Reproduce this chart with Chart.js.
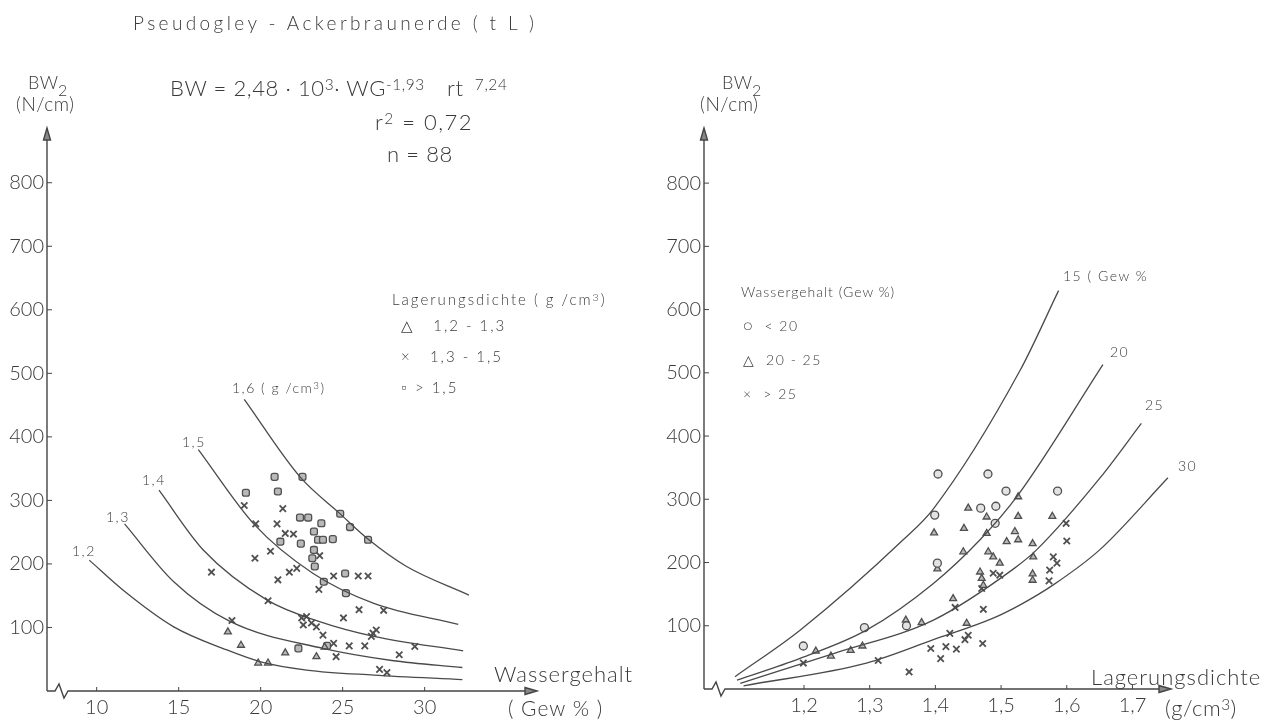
<!DOCTYPE html>
<html>
<head>
<meta charset="utf-8">
<script src="https://cdn.jsdelivr.net/npm/chart.js@4.4.1/dist/chart.umd.min.js"></script>
<style>
  body { margin: 0; background: #fff; }
  #wrap { position: relative; width: 1276px; height: 720px; overflow: hidden; font-family: Lato, "DejaVu Sans", sans-serif; font-weight: 300; color: #3a3a3a; }
  canvas { position: absolute; top: 0; }
  .t { position: absolute; white-space: nowrap; line-height: 1; transform: translateY(-50%); }
  .t sup { font-size: 70%; position: relative; top: -0.4em; vertical-align: baseline; }
  .big { font-size: 22px; letter-spacing: 0.6px; }
  .sm { font-size: 15px; letter-spacing: 2px; }
  .kl { font-size: 14px; letter-spacing: 1.5px; }
</style>
</head>
<body>
<div id="wrap">
  <canvas id="links" width="640" height="720" style="left:0;width:640px;height:720px"></canvas>
  <canvas id="rechts" width="636" height="720" style="left:640px;width:636px;height:720px"></canvas>

  <!-- linke Grafik -->
  <div class="t" style="left:133px;top:22px;font-size:19px;letter-spacing:3.4px">Pseudogley - Ackerbraunerde ( t L )</div>
  <div class="t" style="left:28px;top:82px;font-size:18px;letter-spacing:0.5px">BW</div>
  <div class="t" style="left:58px;top:90px;font-size:16px">2</div>
  <div class="t" style="left:16px;top:103px;font-size:19px;letter-spacing:0.5px">(N/cm)</div>
  <div class="t big" style="left:170px;top:88px">BW = 2,48 · 10<sup>3</sup>· WG<sup>-1,93</sup></div>
  <div class="t big" style="left:447px;top:88px">rt <sup>&nbsp;7,24</sup></div>
  <div class="t big" style="left:375px;top:122px;letter-spacing:1.5px">r<sup>2</sup> = 0,72</div>
  <div class="t big" style="left:387px;top:154px">n = 88</div>
  <div class="t sm" style="left:392px;top:299px">Lagerungsdichte ( g /cm<sup>3</sup>)</div>
  <div class="t sm" style="left:401px;top:325px">△&nbsp;&nbsp;&nbsp;1,2 - 1,3</div>
  <div class="t sm" style="left:401px;top:356px">×&nbsp;&nbsp;&nbsp;1,3 - 1,5</div>
  <div class="t sm" style="left:401px;top:387px">▫ &gt; 1,5</div>
  <div class="t kl" style="left:72px;top:551px">1,2</div>
  <div class="t kl" style="left:106px;top:517px">1,3</div>
  <div class="t kl" style="left:142px;top:480px">1,4</div>
  <div class="t kl" style="left:182px;top:442px">1,5</div>
  <div class="t kl" style="left:232px;top:388px">1,6 ( g /cm<sup>3</sup>)</div>
  <div class="t big" style="left:494px;top:674px;letter-spacing:1px">Wassergehalt</div>
  <div class="t" style="left:508px;top:707px;font-size:21px;letter-spacing:1px">( Gew % )</div>

  <!-- rechte Grafik -->
  <div class="t" style="left:722px;top:82px;font-size:18px;letter-spacing:0.5px">BW</div>
  <div class="t" style="left:752px;top:90px;font-size:16px">2</div>
  <div class="t" style="left:700px;top:103px;font-size:19px;letter-spacing:0.5px">(N/cm)</div>
  <div class="t kl" style="left:741px;top:292px;letter-spacing:1px">Wassergehalt (Gew %)</div>
  <div class="t kl" style="left:743px;top:326px">○&nbsp;&nbsp;&lt; 20</div>
  <div class="t kl" style="left:743px;top:360px">△&nbsp;&nbsp;20 - 25</div>
  <div class="t kl" style="left:743px;top:394px">×&nbsp;&nbsp;&gt; 25</div>
  <div class="t kl" style="left:1063px;top:276px">15 ( Gew %</div>
  <div class="t kl" style="left:1110px;top:352px">20</div>
  <div class="t kl" style="left:1145px;top:405px">25</div>
  <div class="t kl" style="left:1178px;top:466px">30</div>
  <div class="t big" style="left:1091px;top:677px;letter-spacing:1px">Lagerungsdichte</div>
  <div class="t" style="left:1165px;top:708px;font-size:22px;letter-spacing:0.5px">(g/cm<sup>3</sup>)</div>
</div>

<script>
// --- linke Grafik: BW gegen Wassergehalt (Gew %) ---
const wgTicks = [10, 15, 20, 25, 30];
const bwTicks = [100, 200, 300, 400, 500, 600, 700, 800];

// Kurven gleicher Lagerungsdichte (g/cm3)
const kurve12 = [[9.55, 206], [11.6, 159], [14.7, 101], [17.9, 65], [20, 46], [22.8, 33], [26.9, 25], [32.3, 18]];
const kurve13 = [[11.7, 263], [14.7, 172], [18.1, 110], [23.8, 67], [28, 48], [32.3, 37]];
const kurve14 = [[13.8, 316], [16.5, 222], [20.4, 143], [23.5, 110], [26.9, 86], [32.35, 63]];
const kurve15 = [[16.2, 380], [19.65, 261], [23.2, 185], [26.9, 138], [32.05, 105]];
const kurve16 = [[19, 459], [22.4, 337], [24.8, 280], [26.6, 238], [28.9, 196], [32.7, 151]];

// Messpunkte nach Lagerungsdichte
const dichte12bis13 = [[18, 93], [18.8, 72], [21.5, 60], [23.4, 54], [23.9, 69], [19.85, 44], [20.45, 44]];
const dichte13bis15 = [[19, 292], [19.7, 263], [21.35, 287], [21, 263], [21.5, 248], [22, 247], [20.6, 220], [19.65, 209],
  [17, 187], [21.75, 187], [22.2, 193], [21.05, 175], [23.6, 213], [24.45, 181], [25.95, 181], [26.55, 181], [23.55, 160],
  [20.45, 142], [18.25, 111], [25.05, 115], [26, 128], [27.5, 127], [22.5, 115], [22.8, 117], [22.6, 104], [23.1, 107],
  [23.4, 101], [23.8, 88], [26.85, 91], [27.05, 96], [26.75, 86], [29.4, 70], [24.45, 75], [25.4, 71], [26.35, 71],
  [28.45, 57], [24.6, 54], [27.25, 34], [27.7, 29]];
const dichteUeber15 = [[20.85, 337], [22.55, 337], [19.1, 312], [21.05, 314], [24.85, 279], [25.45, 258], [26.55, 238],
  [22.4, 273], [22.9, 273], [23.7, 264], [23.25, 251], [22.45, 232], [23.5, 238], [23.8, 238], [24.4, 239], [23.25, 222],
  [23.15, 209], [23.3, 196], [25.15, 185], [23.85, 172], [25.2, 154], [21.2, 235], [22.3, 67], [24.05, 71]];

// --- rechte Grafik: BW gegen Lagerungsdichte (g/cm3) ---
const rtTicks = [1.2, 1.3, 1.4, 1.5, 1.6, 1.7];

// Kurven gleichen Wassergehalts (Gew %)
const kurveWG15 = [[1.095, 19.5], [1.194, 93], [1.351, 236], [1.397, 285], [1.529, 504], [1.5875, 630]];
const kurveWG20 = [[1.098, 14], [1.194, 48.5], [1.295, 93], [1.397, 167], [1.468, 236], [1.526, 307], [1.655, 513]];
const kurveWG25 = [[1.103, 9], [1.245, 56], [1.397, 109], [1.519, 190], [1.554, 220], [1.65, 333], [1.7135, 420]];
const kurveWG30 = [[1.108, 5], [1.295, 41], [1.397, 78], [1.488, 112], [1.529, 133], [1.58, 165], [1.65, 220], [1.754, 334]];

// Messpunkte nach Wassergehalt
const wgUnter20 = [[1.404, 340], [1.48, 340], [1.5075, 313], [1.586, 313], [1.399, 275], [1.469, 286], [1.492, 289],
  [1.403, 199], [1.199, 68], [1.292, 97], [1.356, 100], [1.491, 262]];
const wg20bis25 = [[1.45, 286], [1.4435, 254], [1.398, 247], [1.478, 272], [1.526, 273], [1.526, 304], [1.578, 273],
  [1.4425, 217], [1.478, 246], [1.4805, 217], [1.488, 209], [1.498, 199], [1.5085, 233], [1.521, 249], [1.526, 236],
  [1.548, 230], [1.549, 209], [1.548, 182], [1.548, 172], [1.427, 143], [1.468, 185], [1.4705, 175], [1.473, 164],
  [1.218, 60], [1.241, 52], [1.271, 61], [1.289, 68], [1.355, 109], [1.379, 105], [1.4476, 104], [1.403, 190]];
const wgUeber25 = [[1.599, 262], [1.6, 234], [1.573, 171], [1.473, 126], [1.43, 129], [1.5795, 209], [1.574, 188],
  [1.585, 199], [1.488, 183], [1.498, 180], [1.4705, 159], [1.199, 41], [1.313, 45], [1.36, 27], [1.393, 64],
  [1.408, 48], [1.416, 67], [1.432, 63], [1.422, 88], [1.45, 85], [1.472, 72], [1.445, 78]];

const ink = '#3a3a3a';
const tickFont = { family: 'Lato, "DejaVu Sans", sans-serif', size: 20, weight: '300' };
const xy = arr => arr.map(([x, y]) => ({ x, y }));

function kurve(arr) {
  return { type: 'line', data: xy(arr), showLine: true, pointRadius: 0, borderColor: '#4a4a4a', borderWidth: 1.3,
           cubicInterpolationMode: 'monotone', fill: false };
}
function punkte(arr, style, r) {
  const kreuz = style === 'crossRot';
  return { type: 'scatter', data: xy(arr), pointStyle: style, pointRadius: r, borderColor: '#505050',
           backgroundColor: style === 'circle' ? '#e2e2e2' : (kreuz ? '#505050' : '#b8b8b8'),
           borderWidth: kreuz ? 1.8 : 1.3 };
}

// Achsen mit Pfeil, Achsenbruch und nach innen zeigenden Strichen
const achsen = {
  id: 'achsen',
  afterDraw(chart, args, opts) {
    const { ctx, chartArea: a, scales: { x, y } } = chart;
    ctx.save();
    ctx.strokeStyle = '#444';
    ctx.fillStyle = '#888';
    ctx.lineWidth = 1.4;
    ctx.beginPath();
    ctx.moveTo(a.left, a.bottom);
    ctx.lineTo(a.left, a.top + 8);
    ctx.stroke();
    ctx.beginPath();
    ctx.moveTo(a.left, a.top - 2);
    ctx.lineTo(a.left - 3.5, a.top + 10);
    ctx.lineTo(a.left + 3.5, a.top + 10);
    ctx.closePath();
    ctx.fill(); ctx.stroke();

    const b = a.left + opts.bruch;
    ctx.beginPath();
    ctx.moveTo(a.left, a.bottom);
    ctx.lineTo(b, a.bottom);
    ctx.lineTo(b + 4, a.bottom - 7);
    ctx.lineTo(b + 9, a.bottom + 7);
    ctx.lineTo(b + 13, a.bottom);
    ctx.lineTo(a.right - 8, a.bottom);
    ctx.stroke();
    ctx.beginPath();
    ctx.moveTo(a.right + 2, a.bottom);
    ctx.lineTo(a.right - 10, a.bottom - 3.5);
    ctx.lineTo(a.right - 10, a.bottom + 3.5);
    ctx.closePath();
    ctx.fill(); ctx.stroke();

    ctx.lineWidth = 1;
    y.ticks.forEach(t => {
      const py = y.getPixelForValue(t.value);
      ctx.beginPath(); ctx.moveTo(a.left, py); ctx.lineTo(a.left + 5, py); ctx.stroke();
    });
    x.ticks.forEach(t => {
      const px = x.getPixelForValue(t.value);
      ctx.beginPath(); ctx.moveTo(px, a.bottom); ctx.lineTo(px, a.bottom - 4); ctx.stroke();
    });
    ctx.restore();
  }
};

function grafik(id, datasets, o) {
  return new Chart(document.getElementById(id), {
    type: 'scatter',
    data: { datasets },
    options: {
      responsive: false,
      animation: false,
      layout: { padding: { left: 0, top: 130, right: o.rechts, bottom: 0 } },
      plugins: { legend: { display: false }, tooltip: { enabled: false }, achsen: { bruch: o.bruch } },
      scales: {
        x: {
          type: 'linear', min: o.xMin, max: o.xMax,
          afterBuildTicks: s => { s.ticks = o.xTicks.map(v => ({ value: v })); },
          afterFit: s => { s.height = o.xHoehe; },
          grid: { display: false, drawTicks: false }, border: { display: false },
          ticks: { padding: 5, color: ink, font: tickFont, autoSkip: false, maxRotation: 0,
                   callback: v => String(v).replace('.', ',') }
        },
        y: {
          type: 'linear', min: 0, max: o.yMax,
          afterBuildTicks: s => { s.ticks = bwTicks.map(v => ({ value: v })); },
          afterFit: s => { s.width = o.yBreite; },
          grid: { display: false, drawTicks: false }, border: { display: false },
          ticks: { padding: 3, color: ink, font: tickFont, autoSkip: false }
        }
      }
    },
    plugins: [achsen]
  });
}

grafik('links', [
  kurve(kurve12), kurve(kurve13), kurve(kurve14), kurve(kurve15), kurve(kurve16),
  punkte(dichte12bis13, 'triangle', 4), punkte(dichte13bis15, 'crossRot', 4.5), punkte(dichteUeber15, 'rectRounded', 4)
], { xMin: 6.97, xMax: 36.73, xTicks: wgTicks, yMax: 883, rechts: 105, xHoehe: 29, yBreite: 47, bruch: 8 });

grafik('rechts', [
  kurve(kurveWG15), kurve(kurveWG20), kurve(kurveWG25), kurve(kurveWG30),
  punkte(wgUnter20, 'circle', 4), punkte(wg20bis25, 'triangle', 4), punkte(wgUeber25, 'crossRot', 4.5)
], { xMin: 1.0478, xMax: 1.7556, xTicks: rtTicks, yMax: 884, rechts: 107, xHoehe: 31, yBreite: 64, bruch: 8 });
</script>
</body>
</html>
